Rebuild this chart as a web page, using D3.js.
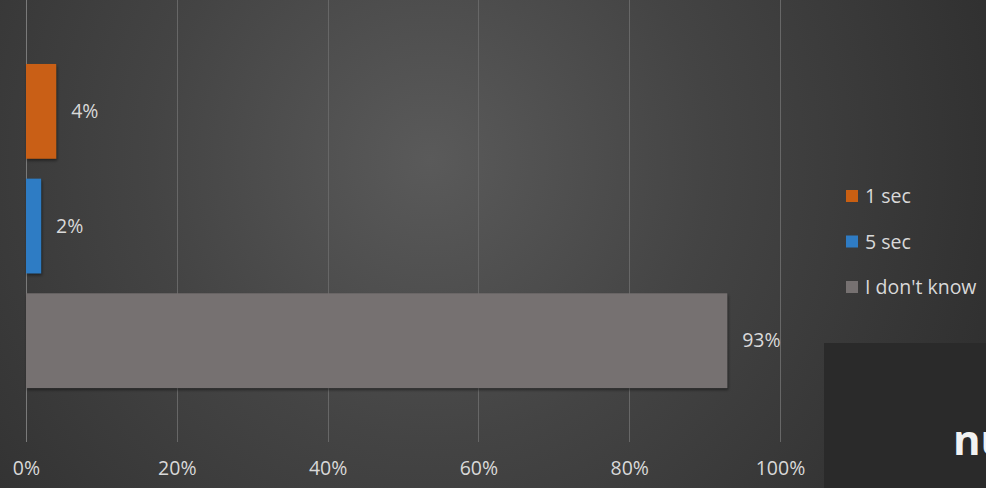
<!DOCTYPE html>
<html>
<head>
<meta charset="utf-8">
<script src="https://cdn.jsdelivr.net/npm/d3@7"></script>
<style>
  html, body { margin: 0; padding: 0; background: #333; }
  svg { display: block; }
  text { font-family: "Open Sans", "Noto Sans", sans-serif; }
</style>
</head>
<body>
<svg id="chart" width="986" height="488"></svg>
<script>
// Survey answers (share of respondents)
const categories = ["1 sec", "5 sec", "I don't know"];
const shares = [4, 2, 93];
const colors = ["#c95f12", "#2f7cc4", "#767171"];
const tickValues = [0, 20, 40, 60, 80, 100];
const tickLabels = ["0%", "20%", "40%", "60%", "80%", "100%"];

const svg = d3.select("#chart");
const W = 986, H = 488;
const FONT = "\"Open Sans\", \"Noto Sans\", sans-serif";

// Background: dark radial glow
const defs = svg.append("defs");
const bg = defs.append("radialGradient").attr("id", "bg")
  .attr("gradientUnits", "userSpaceOnUse")
  .attr("cx", 430).attr("cy", 160).attr("r", 620);
bg.append("stop").attr("offset", "0%").attr("stop-color", "#5a5a5a");
bg.append("stop").attr("offset", "45%").attr("stop-color", "#444");
bg.append("stop").attr("offset", "100%").attr("stop-color", "#2e2e2e");
svg.append("rect").attr("width", W).attr("height", H).attr("fill", "url(#bg)");

const shadow = defs.append("filter").attr("id", "shadow")
  .attr("x", "-10%").attr("y", "-10%").attr("width", "130%").attr("height", "130%");
shadow.append("feDropShadow").attr("dx", 1).attr("dy", 2).attr("stdDeviation", 1.5)
  .attr("flood-color", "#000").attr("flood-opacity", 0.45);

const x = d3.scaleLinear().domain([0, 100]).range([26, 780]);
const y = d3.scaleBand().domain(categories).range([54, 398])
  .paddingInner(0.174).paddingOuter(0.087);

// Vertical gridlines
svg.append("g").selectAll("line").data(tickValues).join("line")
  .attr("x1", d => Math.round(x(d)) + 0.5).attr("x2", d => Math.round(x(d)) + 0.5)
  .attr("y1", 0).attr("y2", 442)
  .attr("stroke", d => d === 0 ? "#7a7a7a" : "#676767")
  .attr("stroke-width", 1);

// Bars
const data = categories.map((c, i) => ({ c, v: shares[i], color: colors[i] }));
svg.append("g").selectAll("rect").data(data).join("rect")
  .attr("x", x(0)).attr("y", d => y(d.c))
  .attr("width", d => x(d.v) - x(0)).attr("height", y.bandwidth())
  .attr("fill", d => d.color)
  .attr("filter", "url(#shadow)");

// Value labels
svg.append("g").selectAll("text").data(data).join("text")
  .attr("x", d => x(d.v) + 15).attr("y", d => y(d.c) + y.bandwidth() / 2)
  .attr("dy", "0.35em")
  .attr("fill", "#d9d9d9").attr("font-size", 19.5)
  .text(d => d.v + "%");

// Bottom axis labels
const xAxis = d3.axisBottom(x).tickValues(tickValues)
  .tickFormat((d, i) => tickLabels[i]).tickSize(0).tickPadding(0);
const gx = svg.append("g").attr("transform", "translate(0,461)").call(xAxis);
gx.select(".domain").remove();
gx.selectAll("text").attr("fill", "#d9d9d9").attr("font-size", 19.5)
  .attr("font-family", FONT);

// Legend
const legend = svg.append("g").selectAll("g").data(data).join("g")
  .attr("transform", (d, i) => `translate(846,${190 + i * 45.5})`);
legend.append("rect").attr("width", 12).attr("height", 12).attr("fill", d => d.color);
legend.append("text").attr("x", 19).attr("y", 6).attr("dy", "0.36em")
  .attr("fill", "#d9d9d9").attr("font-size", 19.5).text(d => d.c);

// Dark panel in the lower right corner
svg.append("rect").attr("x", 824).attr("y", 343).attr("width", W - 824).attr("height", H - 343)
  .attr("fill", "#2a2a2a");
svg.append("text").attr("x", 953).attr("y", 455)
  .attr("fill", "#f2f2f2").attr("font-size", 42).attr("font-weight", "bold")
  .text("nu");
</script>
</body>
</html>
